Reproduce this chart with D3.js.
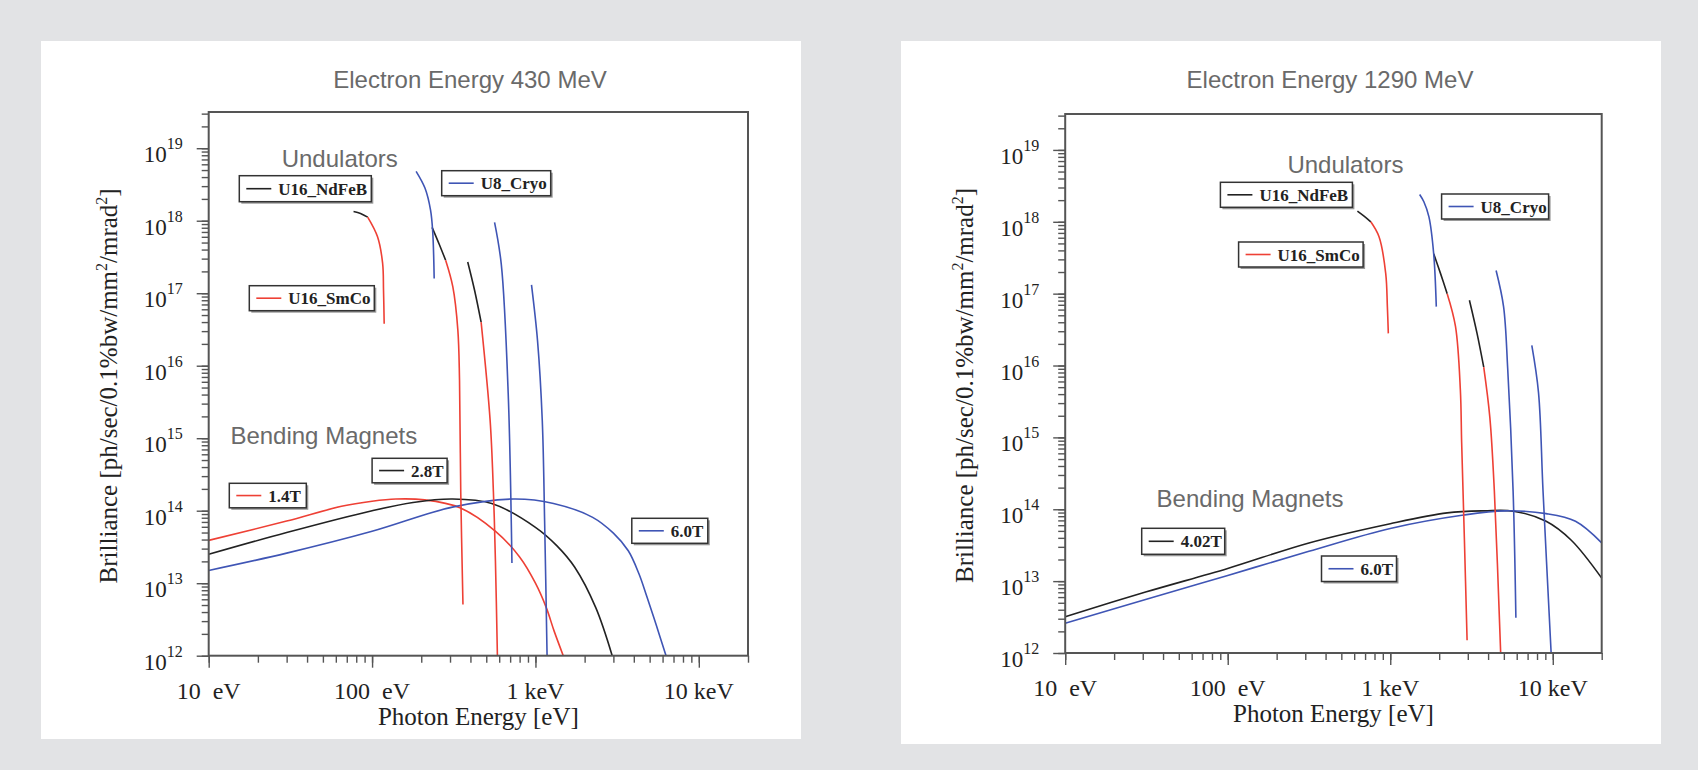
<!DOCTYPE html>
<html lang="en">
<head>
<meta charset="UTF-8">
<title>Brilliance vs Photon Energy</title>
<style>
    body {
        margin: 0;
        padding: 0;
        background: #e2e3e5;
    }
    svg {
        display: block;
    }
    .title, .group-label {
        font-family: "Liberation Sans", Arial, Helvetica, sans-serif;
        font-size: 24px;
        fill: #6a6a6a;
    }
    .serif {
        font-family: "Liberation Serif", "Times New Roman", Times, serif;
        fill: #222;
    }
    .tick line {
        stroke: #555;
        stroke-width: 1.4;
    }
    .curve {
        fill: none;
        stroke-width: 1.6;
    }
</style>
</head>
<body>
<svg id="chart" width="1698" height="770"></svg>

<script src="https://cdnjs.cloudflare.com/ajax/libs/d3/7.8.5/d3.min.js"></script>
<script>
    // axes
    const energyDomain = [10, 20000];
    const brillianceDomain = [1e12, 3.16e19];
    const energyTicks = [10, 100, 1000, 10000];
    const energyTickLabels = ["10  eV", "100  eV", "1 keV", "10 keV"];
    const brillianceExponents = [12, 13, 14, 15, 16, 17, 18, 19];

    // 430 MeV : bending magnets  [photon energy eV, brilliance]
    const bm430_14T = [[10, 3.9e13], [30, 7.2e13], [65, 1.15e14], [100, 1.35e14], [140, 1.45e14],
        [210, 1.41e14], [345, 1.1e14], [570, 5.2e13], [800, 2.3e13], [1000, 1.0e13],
        [1165, 4.6e12], [1300, 2.2e12], [1480, 1e12]];
    const bm430_28T = [[10, 2.5e13], [30, 5.0e13], [100, 1.0e14], [178, 1.3e14], [310, 1.45e14],
        [540, 1.26e14], [1000, 5.9e13], [1350, 3.3e13], [1740, 1.66e13], [2340, 4.6e12], [2950, 1e12]];
    const bm430_60T = [[10, 1.5e13], [30, 2.6e13], [100, 5.2e13], [310, 1.12e14], [735, 1.45e14],
        [1290, 1.26e14], [2240, 8.1e13], [3000, 4.9e13], [3700, 2.8e13], [4300, 1.35e13],
        [4800, 6.6e12], [5500, 2.6e12], [6300, 1e12]];

    // 430 MeV : undulators, harmonics 1, 3, 5
    const u430_NdFeB = [
        [[77, 1.34e18], [85, 1.26e18], [94, 1.12e18]],
        [[233, 8.1e17], [258, 4.7e17], [282, 2.85e17]],
        [[385, 2.7e17], [424, 1.1e17], [465, 4.0e16]]
    ];
    const u430_SmCo = [
        [[94, 1.12e18], [108, 6.0e17], [116, 2.6e17], [117.5, 1.1e17], [118.6, 3.8e16]],
        [[282, 2.85e17], [312, 1.23e17], [335, 3.1e16], [343, 6.3e15], [349, 1.8e14], [360, 5.1e12]],
        [[465, 4.0e16], [528, 1.76e15], [553, 1.8e14], [569, 2.0e13], [585, 1e12]]
    ];
    const u430_Cryo = [
        [[186, 4.8e18], [211, 2.8e18], [228, 1.4e18], [235, 7.1e17], [240, 1.6e17]],
        [[562, 9.5e17], [618, 2.5e17], [681, 4.2e15], [718, 1.9e13]],
        [[946, 1.3e17], [1030, 2.2e16], [1101, 1.76e15], [1138, 7.2e13], [1178, 1e12]]
    ];

    // 1290 MeV : bending magnets
    const bm1290_402T = [[10, 3.2e12], [31.6, 7.1e12], [100, 1.5e13], [316, 3.4e13], [1000, 6.3e13],
        [2240, 8.9e13], [3800, 9.5e13], [5730, 9.4e13], [9100, 6.8e13], [13000, 3.7e13], [20000, 1.1e13]];
    const bm1290_60T = [[10, 2.6e12], [31.6, 5.6e12], [100, 1.2e13], [316, 2.6e13], [1000, 5.4e13],
        [2830, 8.3e13], [5100, 9.5e13], [9100, 8.7e13], [13800, 6.8e13], [20000, 3.4e13]];

    // 1290 MeV : undulators, harmonics 1, 3, 5
    const u1290_NdFeB = [
        [[628, 1.41e18], [690, 1.2e18], [759, 1.0e18]],
        [[1850, 3.6e17], [2040, 1.9e17], [2240, 1.0e17]],
        [[3070, 8.1e16], [3420, 2.8e16], [3760, 9.5e15]]
    ];
    const u1290_SmCo = [
        [[759, 1.0e18], [853, 6.2e17], [938, 1.9e17], [960, 6.6e16], [973, 2.8e16]],
        [[2240, 1.0e17], [2520, 3.5e16], [2700, 4.6e15], [2750, 8.5e14], [2860, 3.7e13], [2970, 1.5e12]],
        [[3760, 9.5e15], [4100, 1.9e15], [4370, 1.8e14], [4780, 1e12]]
    ];
    const u1290_Cryo = [
        [[1517, 2.4e18], [1610, 1.9e18], [1730, 1.17e18], [1850, 3.6e17], [1920, 6.6e16]],
        [[4480, 2.1e17], [4980, 6.6e16], [5280, 9.1e15], [5700, 1.8e14], [5930, 3.1e12]],
        [[7430, 1.9e16], [8170, 4.2e15], [8710, 1.8e14], [9770, 1e12]]
    ];

    const RED = "#ee4035", BLACK = "#222", BLUE = "#3f55b5";

    const panels = [
        {
            title: "Electron Energy 430 MeV",
            card: [41, 41, 760, 698],
            plot: {left: 208.7, right: 748, top: 112, bottom: 655.7},
            titleX: 470,
            curves: [
                {lines: [bm430_14T], color: RED},
                {lines: [bm430_28T], color: BLACK},
                {lines: [bm430_60T], color: BLUE},
                {lines: u430_NdFeB, color: BLACK},
                {lines: u430_SmCo, color: RED},
                {lines: u430_Cryo, color: BLUE}
            ],
            groups: [
                {text: "Undulators", dx: 73, dy: 55},
                {text: "Bending Magnets", dx: 21.7, dy: 331.5}
            ],
            legends: [
                {text: "U16_NdFeB", color: BLACK, dx: 30.6, dy: 63.7, w: 132, h: 26},
                {text: "U8_Cryo", color: BLUE, dx: 233, dy: 58.7, w: 109, h: 25},
                {text: "U16_SmCo", color: RED, dx: 40.6, dy: 173.7, w: 125, h: 25},
                {text: "2.8T", color: BLACK, dx: 163.4, dy: 346.3, w: 75, h: 24.5},
                {text: "1.4T", color: RED, dx: 20.6, dy: 371.3, w: 77, h: 24.5},
                {text: "6.0T", color: BLUE, dx: 423.1, dy: 406.3, w: 76, h: 25}
            ]
        },
        {
            title: "Electron Energy 1290 MeV",
            card: [901, 41, 760, 703],
            plot: {left: 1065.2, right: 1601.7, top: 114, bottom: 653},
            titleX: 1330,
            curves: [
                {lines: [bm1290_402T], color: BLACK},
                {lines: [bm1290_60T], color: BLUE},
                {lines: u1290_NdFeB, color: BLACK},
                {lines: u1290_SmCo, color: RED},
                {lines: u1290_Cryo, color: BLUE}
            ],
            groups: [
                {text: "Undulators", dx: 222.2, dy: 58.7},
                {text: "Bending Magnets", dx: 91.4, dy: 392.5}
            ],
            legends: [
                {text: "U16_NdFeB", color: BLACK, dx: 155.2, dy: 68.3, w: 132, h: 25},
                {text: "U16_SmCo", color: RED, dx: 173.4, dy: 128, w: 124.5, h: 25},
                {text: "U8_Cryo", color: BLUE, dx: 376.4, dy: 80, w: 107, h: 25},
                {text: "4.02T", color: BLACK, dx: 76.5, dy: 414.3, w: 83, h: 26},
                {text: "6.0T", color: BLUE, dx: 256.3, dy: 442, w: 75, h: 25.5}
            ]
        }
    ];

    const svg = d3.select("#chart");

    // 1..9 x 10^k inside a log domain
    function logSteps(domain) {
        const out = [];
        const lo = Math.floor(Math.log10(domain[0])), hi = Math.ceil(Math.log10(domain[1]));
        for (let e = lo; e <= hi; e++) {
            for (let m = 1; m < 10; m++) {
                const v = m * Math.pow(10, e);
                if (v >= domain[0] * 0.999 && v <= domain[1] * 1.001) out.push(v);
            }
        }
        return out;
    }

    function drawPanel(p) {
        const g = svg.append("g");
        const P = p.plot;

        g.append("rect")
            .attr("x", p.card[0]).attr("y", p.card[1])
            .attr("width", p.card[2]).attr("height", p.card[3])
            .attr("fill", "#fff");

        const x = d3.scaleLog().domain(energyDomain).range([P.left, P.right]);
        const y = d3.scaleLog().domain(brillianceDomain).range([P.bottom, P.top]);

        g.append("text")
            .attr("class", "title")
            .attr("x", p.titleX).attr("y", 88)
            .attr("text-anchor", "middle")
            .text(p.title);

        // ticks
        const xAll = logSteps(energyDomain);
        const yAll = logSteps(brillianceDomain);
        const xMajor = xAll.filter(v => Math.abs(Math.log10(v) % 1) < 1e-9);
        const yMajor = yAll.filter(v => Math.abs(Math.log10(v) % 1) < 1e-9);

        [[xAll, 7], [xMajor, 12]].forEach(([vals, size]) => {
            g.append("g")
                .attr("transform", `translate(0,${P.bottom})`)
                .call(d3.axisBottom(x).tickValues(vals).tickSize(size).tickFormat(""))
                .call(a => a.select(".domain").remove());
        });
        [[yAll, 7], [yMajor, 12]].forEach(([vals, size]) => {
            g.append("g")
                .attr("transform", `translate(${P.left},0)`)
                .call(d3.axisLeft(y).tickValues(vals).tickSize(size).tickFormat(""))
                .call(a => a.select(".domain").remove());
        });

        // x tick labels
        g.selectAll(".xlab")
            .data(energyTicks)
            .enter().append("text")
            .attr("class", "serif")
            .attr("x", d => x(d))
            .attr("y", P.bottom + 43)
            .attr("text-anchor", "middle")
            .attr("font-size", 24)
            .style("white-space", "pre")
            .text((d, i) => energyTickLabels[i]);

        // y tick labels 10^n
        const ylab = g.selectAll(".ylab")
            .data(brillianceExponents)
            .enter().append("text")
            .attr("class", "serif")
            .attr("x", P.left - 65)
            .attr("y", d => y(Math.pow(10, d)) + 14)
            .attr("font-size", 23);
        ylab.append("tspan").text("10");
        ylab.append("tspan").attr("dy", -13).attr("font-size", 16).text(d => d);

        // axis titles
        g.append("text")
            .attr("class", "serif")
            .attr("x", (P.left + P.right) / 2)
            .attr("y", P.bottom + 69)
            .attr("text-anchor", "middle")
            .attr("font-size", 25)
            .text("Photon Energy [eV]");

        const yt = g.append("text")
            .attr("class", "serif")
            .attr("transform", `translate(${P.left - 92},${(P.top + P.bottom) / 2 + 2}) rotate(-90)`)
            .attr("text-anchor", "middle")
            .attr("font-size", 25);
        yt.append("tspan").text("Brilliance [ph/sec/0.1%bw/mm");
        yt.append("tspan").attr("dy", -10).attr("font-size", 16).text("2");
        yt.append("tspan").attr("dy", 10).text("/mrad");
        yt.append("tspan").attr("dy", -10).attr("font-size", 16).text("2");
        yt.append("tspan").attr("dy", 10).text("]");

        // curves
        const line = d3.line()
            .x(d => x(d[0]))
            .y(d => y(d[1]))
            .curve(d3.curveCatmullRom.alpha(0.5));

        p.curves.forEach(c => {
            g.append("g").selectAll("path")
                .data(c.lines)
                .enter().append("path")
                .attr("class", "curve")
                .attr("stroke", c.color)
                .attr("d", line);
        });

        // frame
        g.append("rect")
            .attr("x", P.left).attr("y", P.top)
            .attr("width", P.right - P.left).attr("height", P.bottom - P.top)
            .attr("fill", "none")
            .attr("stroke", "#555")
            .attr("stroke-width", 2);

        // group labels
        p.groups.forEach(t => {
            g.append("text")
                .attr("class", "group-label")
                .attr("x", P.left + t.dx)
                .attr("y", P.top + t.dy)
                .text(t.text);
        });

        // legend boxes
        p.legends.forEach(l => {
            const lx = P.left + l.dx, ly = P.top + l.dy;
            const lg = g.append("g");
            lg.append("rect")
                .attr("x", lx + 2).attr("y", ly + 2)
                .attr("width", l.w).attr("height", l.h)
                .attr("fill", "#9a9a9a");
            lg.append("rect")
                .attr("x", lx).attr("y", ly)
                .attr("width", l.w).attr("height", l.h)
                .attr("fill", "#fff")
                .attr("stroke", "#333")
                .attr("stroke-width", 1.5);
            lg.append("line")
                .attr("x1", lx + 7).attr("x2", lx + 32)
                .attr("y1", ly + l.h / 2).attr("y2", ly + l.h / 2)
                .attr("stroke", l.color)
                .attr("stroke-width", 1.6);
            lg.append("text")
                .attr("class", "serif")
                .attr("x", lx + 39)
                .attr("y", ly + l.h / 2 + 6)
                .attr("font-size", 17)
                .attr("font-weight", "bold")
                .text(l.text);
        });
    }

    panels.forEach(drawPanel);
</script>
</body>
</html>
